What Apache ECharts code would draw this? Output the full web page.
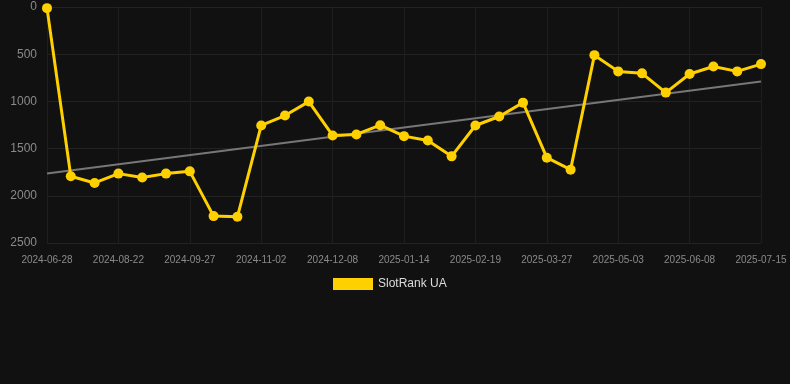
<!DOCTYPE html>
<html><head><meta charset="utf-8">
<script src="https://cdn.jsdelivr.net/npm/echarts@6/dist/echarts.min.js"></script>
<style>html,body{margin:0;padding:0;background:#111111;}#c{width:790px;height:384px;}</style>
</head><body><div id="c"></div>
<script>
const dates = ["2024-06-28","2024-07-29","2024-08-10","2024-08-22","2024-09-03","2024-09-15","2024-09-27","2024-10-09","2024-10-21","2024-11-02","2024-11-14","2024-11-26","2024-12-08","2024-12-20","2025-01-02","2025-01-14","2025-01-26","2025-02-07","2025-02-19","2025-03-03","2025-03-15","2025-03-27","2025-04-08","2025-04-21","2025-05-03","2025-05-15","2025-05-27","2025-06-08","2025-06-20","2025-07-03","2025-07-15"];
const ranks = [12,1793,1864,1765,1807,1765,1741,2215,2222,1255,1150,1002,1361,1350,1252,1368,1414,1582,1255,1160,1013,1596,1723,510,682,703,907,710,630,682,605];
const trendStart = 1765;
const trendEnd = 788;
const seriesName = "SlotRank UA";
const yTicks = [0,500,1000,1500,2000,2500];

const chart = echarts.init(document.getElementById('c'));
chart.setOption({
  backgroundColor: '#111111',
  animation: false,
  grid: {left: 47, right: 29, top: 7, bottom: 141, containLabel: false},
  legend: {
    data: [seriesName], top: 278, left: 333, padding: 0,
    itemWidth: 40, itemHeight: 12, icon: 'rect', itemGap: 10,
    textStyle: {color: '#dddddd', fontSize: 12, fontFamily: 'Arial, Liberation Sans, sans-serif'}
  },
  xAxis: {
    type: 'category', data: dates, boundaryGap: false,
    axisLine: {show: false}, axisTick: {show: false},
    axisLabel: {interval: 2, color: '#8a8a8a', fontSize: 10, margin: 12, fontFamily: 'Arial, Liberation Sans, sans-serif'},
    splitLine: {show: true, interval: 2, lineStyle: {color: '#1e1e1e', width: 1}}
  },
  yAxis: {
    type: 'value', inverse: true, min: yTicks[0], max: yTicks[yTicks.length-1], interval: 500,
    axisLine: {show: false}, axisTick: {show: false},
    axisLabel: {color: '#8a8a8a', fontSize: 12, margin: 10, formatter: v => String(v), fontFamily: 'Arial, Liberation Sans, sans-serif'},
    splitLine: {show: true, lineStyle: {color: '#222222', width: 1}}
  },
  series: [
    {
      name: seriesName, type: 'line', data: ranks,
      symbol: 'circle', symbolSize: 10,
      lineStyle: {color: '#FFD000', width: 3},
      itemStyle: {color: '#FFD000'},
      z: 3
    },
    {
      name: 'trend', type: 'line',
      data: [[0, trendStart], [dates.length - 1, trendEnd]],
      symbol: 'none', lineStyle: {color: '#777777', width: 2},
      z: 2, silent: true
    }
  ]
});
</script></body></html>
